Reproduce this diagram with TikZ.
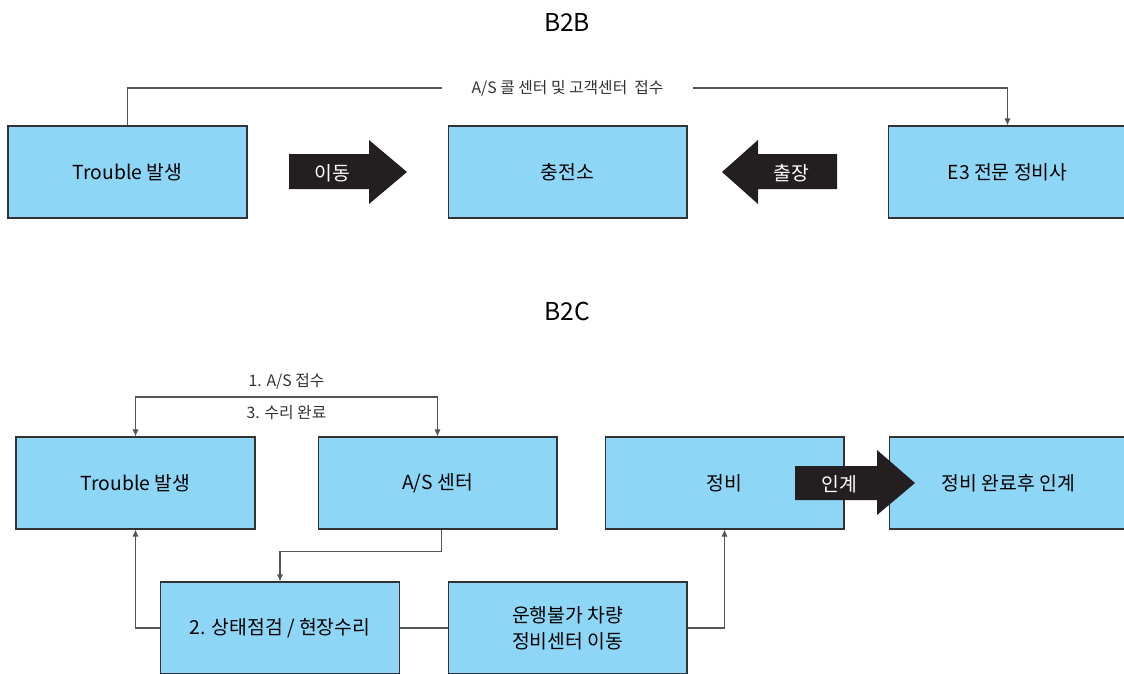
\documentclass[tikz,border=0pt]{standalone}
\usepackage{fontspec}
\setmainfont{Noto Sans CJK KR}
\usetikzlibrary{arrows.meta,positioning}
\definecolor{boxblue}{HTML}{8ED6F6}
\definecolor{edgegray}{HTML}{333333}
\definecolor{linegray}{HTML}{555555}
\definecolor{blockblack}{HTML}{231F20}

\begin{document}
\begin{tikzpicture}[
    x=0.02cm, y=-0.02cm,
    box/.style={draw=edgegray, line width=0.6pt, fill=boxblue, minimum width=4.78cm,
                minimum height=1.84cm, inner sep=0pt, align=center,
                font=\fontsize{11}{15}\selectfont},
    conn/.style={linegray, line width=0.6pt},
    arr/.style={conn, -{Latex[length=4pt,width=3.5pt]}},
    lbl/.style={font=\fontsize{9}{10}\selectfont, text=edgegray},
    ttl/.style={font=\fontsize{14}{16}\selectfont},
    blk/.style={fill=blockblack},
    blktxt/.style={text=white, font=\fontsize{11}{13}\selectfont}
  ]
    \useasboundingbox (0,0) rectangle (1124,673);

    % --- B2B ---
    \node[ttl] (tb2b) at (567,22) {B2B};

    \node[box] (trb) at (127.5,172) {Trouble 발생};
    \node[box] (chg) at (567.5,172) {충전소};
    \node[box] (e3) at (1007.5,172) {E3 전문 정비사};

    \draw[arr] (trb.north) -- (trb.north |- 0,88)
      -- node[lbl, fill=white, inner xsep=17pt] (call) {A/S 콜 센터 및 고객센터\ \ 접수}
         (e3.north |- 0,88) -- (e3.north);

    \fill[blk] (289,154) -- (369,154) -- (369,140) -- (407,172)
      -- (369,204) -- (369,189) -- (289,189) -- cycle;
    \node[blktxt] (move) at (332,173) {이동};

    \fill[blk] (837,154) -- (758,154) -- (758,140) -- (722,172)
      -- (758,204) -- (758,189) -- (837,189) -- cycle;
    \node[blktxt] (trip) at (791,173) {출장};

    % --- B2C ---
    \node[ttl] (tb2c) at (567,311) {B2C};

    \node[box] (trc) at (135.5,483) {Trouble 발생};
    \node[box] (asc) at (437.5,483) {A/S 센터};
    \node[box] (fix) at (724.5,483) {정비};
    \node[box] (done) at (1008.5,483) {정비 완료후 인계};
    \node[box] (chk) at (280,628) {2. 상태점검 / 현장수리};
    \node[box] (mov) at (567.5,628) {운행불가 차량\\정비센터 이동};

    \draw[conn, {Latex[length=4pt,width=3.5pt]}-{Latex[length=4pt,width=3.5pt]}]
      (trc.north) -- (trc.north |- 0,397)
      -- node[lbl, above=1pt] (acc) {1. A/S 접수}
         node[lbl, below=1pt] (rep) {3. 수리 완료}
         (asc.north |- 0,397) -- (asc.north);
    \draw[arr] ([xshift=2.5pt]asc.south) -- ++(0,22) -| (chk.north);
    \draw[arr] (chk.west) -| (trc.south);
    \draw[conn] (chk.east) -- (mov.west);
    \draw[arr] (mov.east) -| (fix.south);

    \fill[blk] (795,466) -- (877,466) -- (877,450) -- (915,483)
      -- (877,515) -- (877,500) -- (795,500) -- cycle;
    \node[blktxt] (hand) at (839,484) {인계};
\end{tikzpicture}
\end{document}
